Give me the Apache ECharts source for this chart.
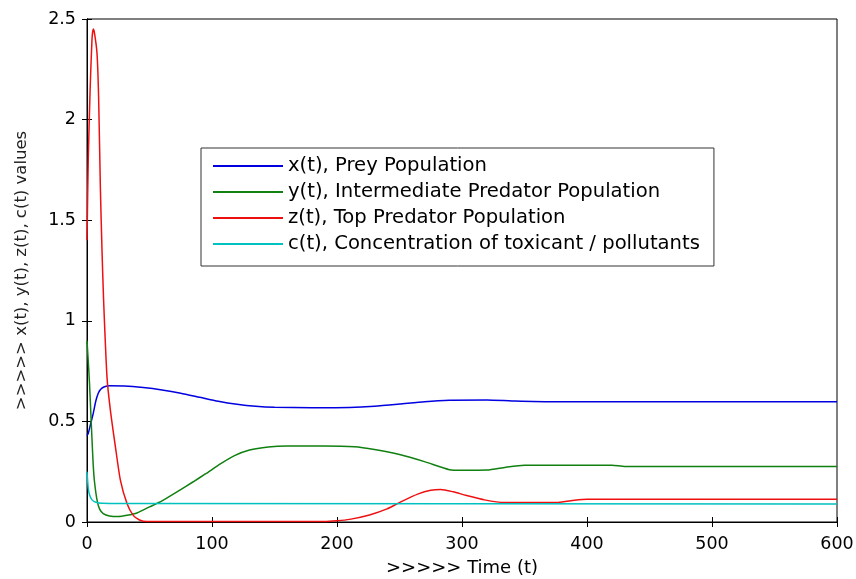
<!DOCTYPE html>
<html>
<head>
<meta charset="utf-8">
<script src="https://cdn.jsdelivr.net/npm/echarts@6/dist/echarts.min.js"></script>
<style>
html,body{margin:0;padding:0;background:#fff;}
#main{width:856px;height:579px;}
</style>
</head>
<body>
<div id="main"></div>
<script>
// x axis ticks and y axis ticks
var xTicks = [0, 100, 200, 300, 400, 500, 600];
var yTicks = [0, 0.5, 1, 1.5, 2, 2.5];

var seriesNames = [
    'x(t), Prey Population',
    'y(t), Intermediate Predator Population',
    'z(t), Top Predator Population',
    'c(t), Concentration of toxicant / pollutants'
];

// [time, value]
var preyX = [
    [0,0.43],[1,0.44],[3,0.49],[5,0.54],[7,0.6],[9,0.64],[11,0.66],[14,0.672],[18,0.677],
    [30,0.676],[45,0.668],[60,0.656],[75,0.64],[90,0.62],[105,0.6],[120,0.585],[135,0.575],
    [150,0.57],[180,0.568],[210,0.569],[230,0.575],[250,0.586],[270,0.598],[290,0.605],
    [320,0.606],[340,0.602],[370,0.598],[600,0.598]
];
var midY = [
    [0,0.9],[1,0.8],[2,0.69],[3,0.55],[4,0.41],[5,0.28],[6,0.2],[8,0.11],[10,0.065],[13,0.042],
    [18,0.03],[25,0.027],[32,0.033],[40,0.045],[50,0.075],[60,0.105],[72,0.15],[85,0.2],[95,0.24],
    [107,0.29],[118,0.33],[130,0.358],[145,0.373],[160,0.378],[190,0.378],[214,0.374],[230,0.36],
    [250,0.335],[270,0.3],[290,0.26],[300,0.257],[320,0.258],[335,0.272],[350,0.282],[420,0.282],
    [430,0.276],[600,0.276]
];
var topZ = [
    [0,1.4],[1,1.8],[2.5,2.15],[4,2.4],[5,2.45],[6,2.43],[8,2.33],[9.3,2.11],[10.7,1.66],[12,1.35],
    [13.3,1.1],[16,0.72],[18.7,0.556],[22.7,0.375],[26.7,0.208],[32,0.092],[37,0.033],[42,0.01],
    [48,0.002],[190,0.002],[200,0.006],[210,0.013],[226,0.035],[240,0.065],[251,0.1],[265,0.14],
    [275,0.158],[283,0.162],[293,0.15],[303,0.133],[318,0.11],[334,0.097],[377,0.097],[390,0.108],
    [400,0.113],[600,0.113]
];
var toxC = [
    [0,0.25],[1,0.17],[2,0.135],[4,0.11],[7,0.098],[12,0.093],[30,0.092],[600,0.09]
];

var colors = ['#0000e0', '#108010', '#ee1010', '#00c0c0'];
var font = "'DejaVu Sans', Verdana, sans-serif";

var myChart = echarts.init(document.getElementById('main'));

function mkSeries(name, data, color){
    return {
        name:name,
        type:'line',
        data:data,
        xAxisIndex:0,
        yAxisIndex:0,
        showSymbol:false,
        symbol:'none',
        smooth:0.2,
        lineStyle:{color:color,width:1.5},
        itemStyle:{color:color},
        animation:false
    };
}

var tickStyle = {show:true,inside:true,length:5,lineStyle:{color:'#000'}};
var lineStyle = {show:true,lineStyle:{color:'#000',width:1}};

var opt = {
    animation:false,
    textStyle:{fontFamily:font},
    grid:{
        left:87,right:19,top:19,bottom:57,
        outerBoundsMode:'none',
        containLabel:false,
        show:true,borderColor:'#000',borderWidth:1,backgroundColor:'#fff'
    },
    legend:{
        left:201,
        top:148,
        orient:'vertical',
        backgroundColor:'#fff',
        borderColor:'#333',
        borderWidth:1,
        borderRadius:0,
        padding:[5,14,9,12],
        itemGap:0,
        itemWidth:70,
        itemHeight:2,
        icon:'rect',
        textStyle:{fontSize:19.6,lineHeight:26,color:'#000',fontFamily:font},
        data:seriesNames
    },
    xAxis:[{
        type:'value',
        min:xTicks[0],
        max:xTicks[xTicks.length-1],
        interval:100,
        name:'>>>>> Time (t)',
        nameLocation:'middle',
        nameGap:37,
        nameTextStyle:{fontSize:18,color:'#000',fontFamily:font},
        axisLine:lineStyle,
        axisTick:tickStyle,
        splitLine:{show:false},
        axisLabel:{fontSize:17.5,color:'#000',margin:13,fontFamily:font}
    },{
        type:'value',
        position:'top',
        min:xTicks[0],
        max:xTicks[xTicks.length-1],
        interval:100,
        axisLine:lineStyle,
        axisTick:tickStyle,
        splitLine:{show:false},
        axisLabel:{show:false}
    }],
    yAxis:[{
        type:'value',
        min:yTicks[0],
        max:yTicks[yTicks.length-1],
        interval:0.5,
        name:'>>>>> x(t), y(t), z(t), c(t) values',
        nameLocation:'middle',
        nameGap:57,
        nameTextStyle:{fontSize:16.5,color:'#222',fontFamily:font},
        axisLine:lineStyle,
        axisTick:tickStyle,
        splitLine:{show:false},
        axisLabel:{fontSize:17.5,color:'#000',margin:11,fontFamily:font}
    },{
        type:'value',
        position:'right',
        min:yTicks[0],
        max:yTicks[yTicks.length-1],
        interval:0.5,
        axisLine:lineStyle,
        axisTick:tickStyle,
        splitLine:{show:false},
        axisLabel:{show:false}
    }],
    series:[
        mkSeries(seriesNames[0], preyX, colors[0]),
        mkSeries(seriesNames[1], midY, colors[1]),
        mkSeries(seriesNames[2], topZ, colors[2]),
        mkSeries(seriesNames[3], toxC, colors[3])
    ]
};

myChart.setOption(opt);
</script>
</body>
</html>
